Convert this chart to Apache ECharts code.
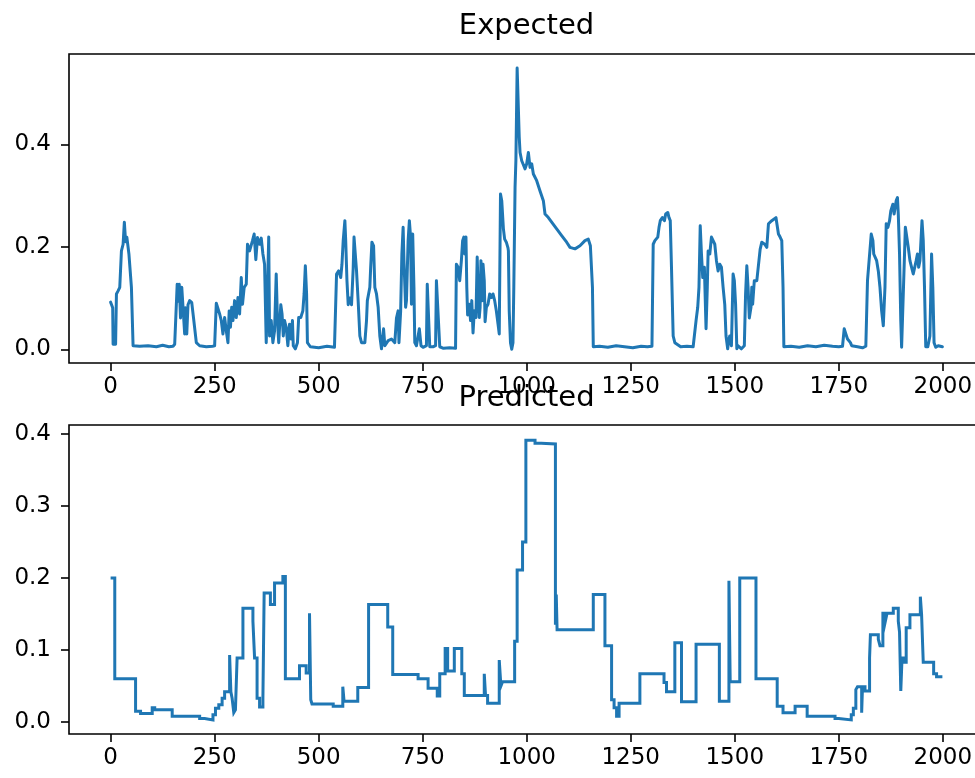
<!DOCTYPE html>
<html>
<head>
<meta charset="utf-8">
<script src="https://cdn.jsdelivr.net/npm/echarts@6/dist/echarts.min.js"></script>
<style>
  html, body { margin: 0; padding: 0; background: #ffffff; }
  #chart { width: 975px; height: 778px; }
</style>
</head>
<body>
<div id="chart"></div>
<script>
// Expected signal: sample index and value
const expectedX = [
  0, 3, 5, 6, 12, 14, 18, 22, 26, 30, 33, 36, 39, 44, 47, 50, 54, 70, 90, 110, 125, 140, 150,
  154, 160, 162, 165, 168, 171, 174, 178, 180, 183, 186, 190, 195, 200, 206, 214, 230, 245,
  250, 254, 258, 262, 266, 270, 274, 278, 282, 285, 288, 291, 294, 298, 302, 306, 310, 314,
  317, 321, 326, 329, 334, 341, 345, 349, 353, 358, 362, 366, 370, 374, 380, 382, 386, 390,
  394, 398, 401, 404, 409, 412, 415, 418, 422, 426, 430, 434, 437, 439, 444, 449, 452, 457,
  462, 465, 468, 471, 473, 480, 500, 520, 538, 543, 548, 553, 556, 559, 563, 565, 568, 571,
  575, 579, 583, 585, 588, 591, 595, 599, 603, 611, 615, 617, 623, 625, 628, 632, 635, 639,
  643, 647, 651, 656, 659, 667, 675, 683, 687, 691, 693, 697, 700, 703, 705, 709, 711, 715,
  718, 721, 723, 726, 729, 731, 735, 742, 746, 751, 759, 761, 764, 767, 775, 781, 783, 787,
  791, 800, 815, 829, 831, 835, 839, 843, 846, 849, 851, 854, 856, 858, 862, 865, 868, 871,
  874, 878, 881, 883, 886, 888, 890, 893, 895, 898, 900, 903, 907, 911, 915, 919, 923, 927,
  931, 934, 937, 940, 944, 947, 951, 955, 956, 958, 961, 964, 967, 969, 972, 974, 977, 980,
  982, 984, 988, 991, 996, 1000, 1004, 1008, 1012, 1016, 1024, 1032, 1040, 1044, 1052, 1060,
  1072, 1084, 1096, 1104, 1116, 1128, 1140, 1148, 1153, 1158, 1160, 1175, 1195, 1215, 1235,
  1255, 1275, 1290, 1301, 1304, 1308, 1315, 1318, 1321, 1326, 1331, 1334, 1339, 1342, 1345,
  1348, 1352, 1356, 1370, 1385, 1400, 1407, 1411, 1414, 1417, 1420, 1423, 1427, 1431, 1434,
  1436, 1440, 1444, 1448, 1452, 1456, 1460, 1464, 1468, 1472, 1476, 1479, 1483, 1486, 1488,
  1492, 1496, 1499, 1502, 1505, 1508, 1516, 1523, 1526, 1529, 1532, 1535, 1539, 1541, 1543,
  1547, 1553, 1557, 1561, 1565, 1572, 1577, 1581, 1585, 1589, 1593, 1599, 1602, 1605, 1609,
  1613, 1616, 1618, 1635, 1655, 1675, 1695, 1715, 1735, 1750, 1759, 1763, 1767, 1771, 1778,
  1781, 1795, 1807, 1815, 1819, 1823, 1828, 1832, 1834, 1838, 1841, 1845, 1849, 1853, 1857,
  1861, 1864, 1868, 1872, 1875, 1880, 1883, 1888, 1891, 1893, 1896, 1899, 1901, 1905, 1910,
  1913, 1917, 1921, 1925, 1929, 1933, 1936, 1939, 1942, 1945, 1950, 1953, 1956, 1959, 1964,
  1969, 1973, 1976, 1979, 1983, 1989, 1999
];
const expectedY = [
  0.092, 0.094, 0.081, 0.010, 0.010, 0.108, 0.114, 0.121, 0.192, 0.205, 0.248, 0.210, 0.219, 0.186, 0.186, 0.121, 0.007, 0.006, 0.007, 0.005, 0.008, 0.005, 0.006,
  0.010, 0.127, 0.094, 0.127, 0.061, 0.121, 0.121, 0.030, 0.081, 0.030, 0.087, 0.095, 0.091, 0.056, 0.013, 0.007, 0.005, 0.006,
  0.007, 0.090, 0.088, 0.069, 0.056, 0.030, 0.062, 0.036, 0.013, 0.075, 0.043, 0.082, 0.056, 0.095, 0.062, 0.101, 0.069, 0.140,
  0.088, 0.121, 0.127, 0.205, 0.192, 0.212, 0.225, 0.175, 0.218, 0.205, 0.217, 0.186, 0.166, 0.013, 0.219, 0.026, 0.056, 0.013,
  0.036, 0.147, 0.056, 0.013, 0.087, 0.069, 0.026, 0.056, 0.043, 0.007, 0.049, 0.020, 0.056, 0.007, 0.001, 0.013, 0.062, 0.062,
  0.075, 0.108, 0.163, 0.108, 0.013, 0.005, 0.003, 0.006, 0.004, 0.147, 0.153, 0.140, 0.166, 0.212, 0.251, 0.212, 0.134, 0.087,
  0.100, 0.087, 0.158, 0.219, 0.186, 0.153, 0.093, 0.026, 0.013, 0.013, 0.056, 0.095, 0.121, 0.160, 0.209, 0.202, 0.121, 0.108,
  0.082, 0.026, 0.001, 0.040, 0.007, 0.017, 0.020, 0.013, 0.061, 0.075, 0.013, 0.074, 0.186, 0.238, 0.173, 0.082, 0.095, 0.212,
  0.251, 0.218, 0.088, 0.225, 0.121, 0.013, 0.007, 0.040, 0.007, 0.004, 0.007, 0.127, 0.127, 0.005, 0.005, 0.007, 0.134, 0.134,
  0.005, 0.002, 0.003, 0.002, 0.166, 0.160, 0.134, 0.173, 0.212, 0.219, 0.186, 0.219, 0.121, 0.067, 0.088, 0.056, 0.095, 0.032,
  0.075, 0.062, 0.180, 0.121, 0.062, 0.082, 0.173, 0.095, 0.166, 0.134, 0.054, 0.082, 0.088, 0.108, 0.101, 0.108, 0.095, 0.075,
  0.050, 0.030, 0.303, 0.290, 0.235, 0.215, 0.209, 0.198, 0.192, 0.075, 0.013, 0.000, 0.013, 0.121, 0.316, 0.368, 0.549, 0.549,
  0.414, 0.384, 0.368, 0.362, 0.352, 0.362, 0.384, 0.355, 0.362, 0.342, 0.329, 0.309, 0.290, 0.264, 0.257, 0.248,
  0.235, 0.222, 0.209, 0.199, 0.196, 0.202, 0.212, 0.215, 0.202, 0.121, 0.005, 0.006, 0.004, 0.007, 0.005,
  0.003, 0.006, 0.005, 0.006, 0.205, 0.212, 0.219, 0.238, 0.251, 0.257, 0.251, 0.264, 0.267, 0.257, 0.251,
  0.158, 0.026, 0.013, 0.005, 0.006, 0.005, 0.056, 0.082, 0.121, 0.241, 0.186, 0.140, 0.160, 0.040, 0.121,
  0.192, 0.186, 0.219, 0.212, 0.205, 0.173, 0.153, 0.166, 0.160, 0.121, 0.087, 0.026, 0.001, 0.020, 0.026,
  0.007, 0.147, 0.134, 0.088, 0.001, 0.007, 0.001, 0.007, 0.108, 0.163, 0.121, 0.061, 0.082, 0.121, 0.088,
  0.134, 0.134, 0.134, 0.195, 0.209, 0.205, 0.199, 0.245, 0.248, 0.251, 0.254, 0.257, 0.254, 0.225, 0.219,
  0.212, 0.121, 0.005, 0.006, 0.004, 0.007, 0.005, 0.008, 0.006, 0.005, 0.006, 0.040, 0.030, 0.020, 0.013,
  0.007, 0.005, 0.003, 0.006, 0.134, 0.134, 0.225, 0.212, 0.186, 0.186, 0.173, 0.153, 0.121, 0.075, 0.046,
  0.121, 0.245, 0.238, 0.251, 0.270, 0.283, 0.264, 0.290, 0.296, 0.264, 0.186, 0.056, 0.004, 0.007, 0.238,
  0.235, 0.199, 0.173, 0.160, 0.147, 0.146, 0.173, 0.186, 0.160, 0.173, 0.251, 0.212, 0.121, 0.005, 0.005,
  0.026, 0.186, 0.121, 0.013, 0.004, 0.007, 0.005
];

// Predicted signal: index where each held level starts, and the level
const predictedX = [
  0, 10, 60, 72, 100, 106, 148, 214, 226, 246, 252, 260, 268, 274, 286, 289, 292, 296, 300, 304,
  318, 342, 346, 352, 358, 366, 369, 384, 394, 414, 420, 454, 470, 478, 481, 484, 535, 558, 561, 594,
  620, 666, 678, 739, 763, 785, 791, 804, 810, 826, 844, 850, 898, 901, 906, 934, 938, 942, 971, 977,
  990, 998, 1020, 1035, 1069, 1071, 1073, 1160, 1188, 1204, 1210, 1216, 1222, 1272, 1330, 1336, 1356,
  1372, 1407, 1463, 1486, 1489, 1512, 1551, 1602, 1616, 1645, 1674, 1741, 1750, 1780, 1785, 1791, 1795,
  1805, 1807, 1813, 1824, 1826, 1845, 1849, 1856, 1862, 1866, 1881, 1893, 1896, 1899, 1902, 1907, 1912,
  1921, 1946, 1949, 1953, 1978, 1985, 1999
];
const predictedY = [
  0.200, 0.060, 0.015, 0.012, 0.020, 0.017, 0.008, 0.005, 0.003, 0.010, 0.019, 0.024, 0.033, 0.042, 0.093, 0.042, 0.033, 0.013, 0.017, 0.089,
  0.158, 0.140, 0.089, 0.033, 0.021, 0.033, 0.179, 0.163, 0.193, 0.202, 0.060, 0.078, 0.068, 0.151, 0.031, 0.025, 0.022, 0.049, 0.029, 0.048,
  0.163, 0.132, 0.066, 0.060, 0.047, 0.036, 0.067, 0.102, 0.071, 0.102, 0.067, 0.037, 0.067, 0.037, 0.026, 0.086, 0.050, 0.056, 0.112, 0.211,
  0.250, 0.391, 0.387, 0.386, 0.135, 0.177, 0.128, 0.177, 0.106, 0.031, 0.020, 0.008, 0.026, 0.067, 0.055, 0.042, 0.110,
  0.028, 0.108, 0.029, 0.196, 0.056, 0.200, 0.060, 0.022, 0.013, 0.022, 0.008, 0.005, 0.003, 0.010, 0.019, 0.045, 0.049,
  0.013, 0.049, 0.043, 0.089, 0.121, 0.115, 0.106, 0.151, 0.140, 0.151, 0.158, 0.140, 0.125, 0.043, 0.089, 0.083, 0.131,
  0.149, 0.174, 0.149, 0.083, 0.067, 0.063, 0.063
];

const xTicks = [0, 250, 500, 750, 1000, 1250, 1500, 1750, 2000];
const expectedTicks = [0, 0.2, 0.4];
const predictedTicks = [0, 0.1, 0.2, 0.3, 0.4];

const LINE_COLOR = '#1f77b4';
const FONT = '"DejaVu Sans", "Liberation Sans", sans-serif';
const TICK_FONT_SIZE = 23;
const TITLE_FONT_SIZE = 29;

function pairs(xs, ys) {
  return xs.map((x, i) => [x, ys[i]]);
}

function xAxisFor(gridIndex) {
  return {
    type: 'value',
    gridIndex: gridIndex,
    position: 'bottom',
    min: -100,
    max: 2099,
    axisLine: { show: false, onZero: false },
    splitLine: { show: false },
    axisTick: {
      show: true, inside: false, length: 8, customValues: xTicks,
      lineStyle: { color: '#000', width: 1.6 }
    },
    axisLabel: {
      show: true, customValues: xTicks, margin: 13,
      color: '#000', fontFamily: FONT, fontSize: TICK_FONT_SIZE,
      formatter: v => String(v)
    }
  };
}

function yAxisFor(gridIndex, min, max, ticks) {
  return {
    type: 'value',
    gridIndex: gridIndex,
    position: 'left',
    min: min,
    max: max,
    axisLine: { show: false, onZero: false },
    splitLine: { show: false },
    axisTick: {
      show: true, inside: false, length: 8, customValues: ticks,
      lineStyle: { color: '#000', width: 1.6 }
    },
    axisLabel: {
      show: true, customValues: ticks, margin: 18,
      color: '#000', fontFamily: FONT, fontSize: TICK_FONT_SIZE,
      formatter: v => v.toFixed(1)
    }
  };
}

const gridStyle = {
  show: true,
  borderColor: '#000',
  borderWidth: 1.6,
  backgroundColor: 'transparent',
  outerBoundsMode: 'none'
};

const chart = echarts.init(document.getElementById('chart'), null, { renderer: 'canvas' });

chart.setOption({
  animation: false,
  backgroundColor: '#ffffff',
  grid: [
    Object.assign({ left: 69, top: 54, width: 915, height: 309 }, gridStyle),
    Object.assign({ left: 69, top: 425, width: 915, height: 309 }, gridStyle)
  ],
  xAxis: [xAxisFor(0), xAxisFor(1)],
  yAxis: [
    yAxisFor(0, -0.0267, 0.5762, expectedTicks),
    yAxisFor(1, -0.0166, 0.4123, predictedTicks)
  ],
  graphic: [
    {
      type: 'text', x: 526.5, y: 26, z: 100,
      style: {
        text: 'Expected', fill: '#000',
        font: TITLE_FONT_SIZE + 'px ' + FONT,
        align: 'center', verticalAlign: 'middle'
      }
    },
    {
      type: 'text', x: 526.5, y: 398, z: 100,
      style: {
        text: 'Predicted', fill: '#000',
        font: TITLE_FONT_SIZE + 'px ' + FONT,
        align: 'center', verticalAlign: 'middle'
      }
    }
  ],
  series: [
    {
      name: 'Expected',
      type: 'line',
      xAxisIndex: 0, yAxisIndex: 0,
      data: pairs(expectedX, expectedY),
      showSymbol: false,
      symbol: 'none',
      clip: true,
      lineStyle: { color: LINE_COLOR, width: 3, join: 'round', cap: 'round' }
    },
    {
      name: 'Predicted',
      type: 'line',
      xAxisIndex: 1, yAxisIndex: 1,
      data: pairs(predictedX, predictedY),
      step: 'end',
      showSymbol: false,
      symbol: 'none',
      clip: true,
      lineStyle: { color: LINE_COLOR, width: 3, join: 'miter', cap: 'butt' }
    }
  ]
});
</script>
</body>
</html>
